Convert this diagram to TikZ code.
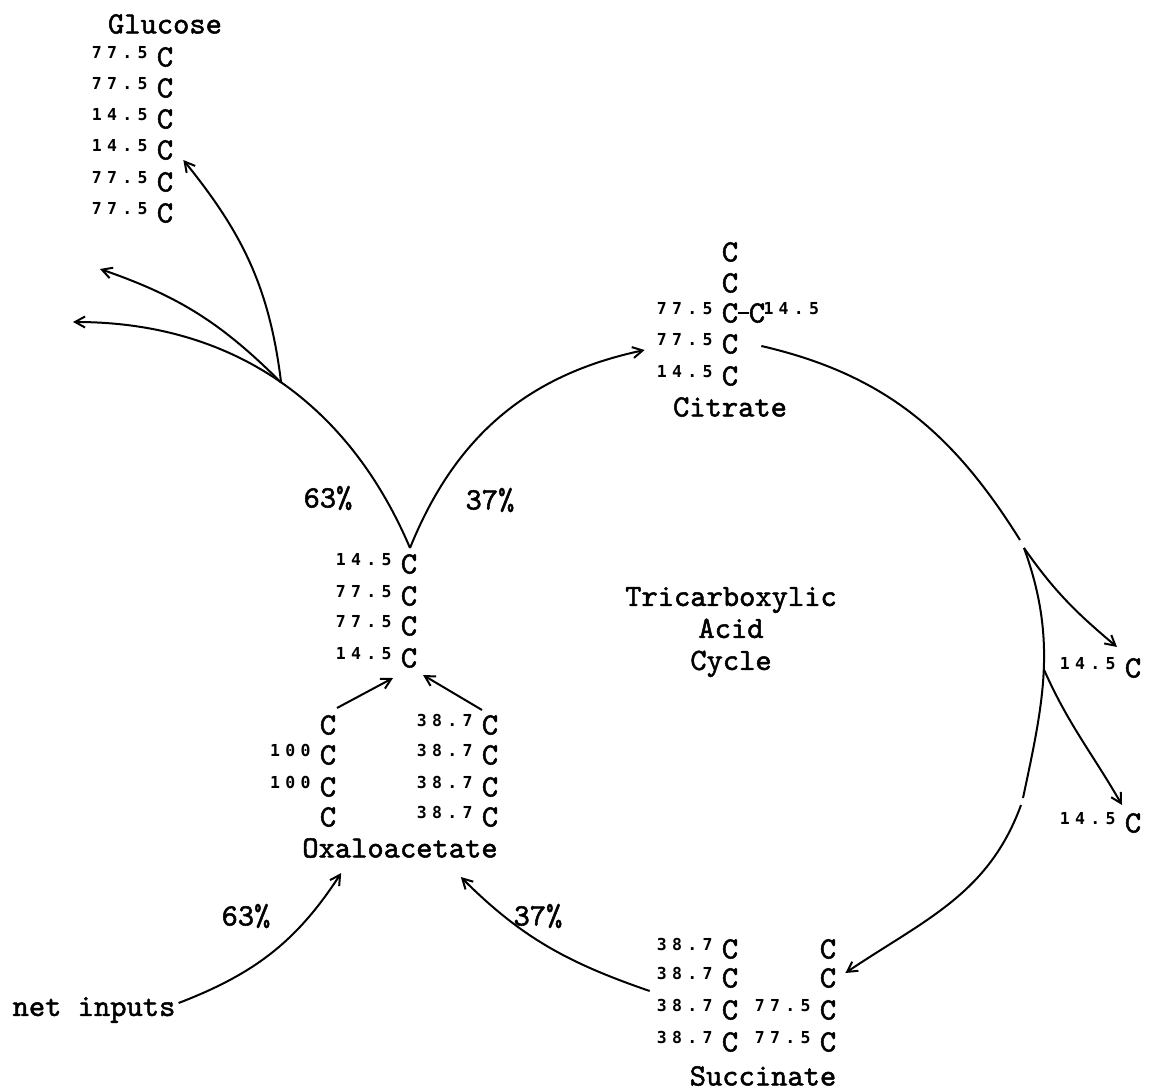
\documentclass[tikz,border=0pt]{standalone}
\usepackage{fontspec}
\setmonofont{lmmono10-regular.otf}[FakeBold=1.6]
\newfontfamily\isofont{DejaVu Sans Mono Bold}[LetterSpace=32]
\usetikzlibrary{arrows.meta}

% a carbon atom, optionally with its label-enrichment written in front of it
\newcommand\carbon[3]{\node[atom] (#1) at (#2,#3) {C};}
\newcommand\carbonL[4]{%
  \node[atom] (#1) at (#2,#3) {C};
  \node[iso] (#1l) at ([xshift=-9pt,yshift=1pt]#1.north west) {#4};}

\begin{document}
\begin{tikzpicture}[x=1pt,y=1pt,
  every node/.style={inner sep=0pt, font=\ttfamily\fontsize{31}{32}\selectfont},
  atom/.style={},
  iso/.style={anchor=north east, font=\isofont\fontsize{16.5}{17}\selectfont},
  plain/.style={line width=2pt},
  flow/.style={line width=2pt, -{Straight Barb[length=10pt,width=11pt,line width=2pt]}}]

\useasboundingbox (0,0) rectangle (1159,-1091);

% ---- glucose ----
\node (glc) at (165,-24) {Glucose};
\carbonL{g1}{165}{-57}{77.5}
\carbonL{g2}{165}{-88}{77.5}
\carbonL{g3}{165}{-119}{14.5}
\carbonL{g4}{165}{-150}{14.5}
\carbonL{g5}{165}{-182}{77.5}
\carbonL{g6}{165}{-213}{77.5}

% ---- citrate ----
\carbon{c1}{730}{-252}
\carbon{c2}{730}{-283}
\carbonL{c3}{730}{-313}{77.5}
\carbon{c3b}{757}{-313}
\node[iso, anchor=north west] (c3bl) at ([xshift=-2pt,yshift=1pt]c3b.north east) {14.5};
\draw[plain] (c3.east) -- (c3b.west);
\carbonL{c4}{730}{-344}{77.5}
\carbonL{c5}{730}{-376}{14.5}
\node (cit) at (730,-407) {Citrate};

% ---- oxaloacetate formed in the cycle ----
\carbonL{o1}{409}{-564}{14.5}
\carbonL{o2}{409}{-596}{77.5}
\carbonL{o3}{409}{-626}{77.5}
\carbonL{o4}{409}{-658}{14.5}

% ---- the two oxaloacetate sources ----
\carbon{l1}{328}{-725}
\carbonL{l2}{328}{-755}{100}
\carbonL{l3}{328}{-787}{100}
\carbon{l4}{328}{-817}
\carbonL{r1}{490}{-725}{38.7}
\carbonL{r2}{490}{-755}{38.7}
\carbonL{r3}{490}{-787}{38.7}
\carbonL{r4}{490}{-817}{38.7}
\node (oaa) at (400,-848) {Oxaloacetate};

% ---- succinate ----
\carbonL{s1}{730}{-949}{38.7}
\carbonL{s2}{730}{-978}{38.7}
\carbonL{s3}{730}{-1010}{38.7}
\carbonL{s4}{730}{-1042}{38.7}
\carbon{t1}{828}{-949}
\carbon{t2}{828}{-978}
\carbonL{t3}{828}{-1010}{77.5}
\carbonL{t4}{828}{-1042}{77.5}
\node (suc) at (763,-1076) {Succinate};

% ---- released CO2 carbons ----
\carbonL{p1}{1133}{-668}{14.5}
\carbonL{p2}{1133}{-823}{14.5}

% ---- labels ----
\node[align=center] (tca) at (731,-632) {Tricarboxylic\\Acid\\Cycle};
\node (pa) at (328,-498) {63\%};
\node (pb) at (490,-500) {37\%};
\node (pc) at (246,-916) {63\%};
\node (pd) at (538,-916) {37\%};
\node (net) at (94,-1010) {net inputs};

% ---- free ends of the outflow arrows ----
\coordinate (outA) at (100,-269);
\coordinate (outB) at (73,-322);
\coordinate (vtip) at ([shift={(1,6)}]o1.north);

% ---- 63% branch: gluconeogenesis and other outflows ----
\draw[flow] (vtip) to[out=113,in=0] coordinate[pos=0.49] (junc) (outB);
\draw[flow] (junc) to[out=97,in=-51] ([shift={(10,0)}]g4.south east);
\draw[flow] (junc) to[out=135,in=-19] (outA);

% ---- 37% branch into citrate ----
\draw[flow] (vtip) to[out=68,in=-168] ([shift={(-77,-6)}]c4.west);

% ---- around the cycle ----
\draw[plain] ([shift={(23,-2)}]c4.east) to[out=-13,in=122] (1020,-540);
\draw[plain] (1024,-548) to[out=-70,in=78] coordinate[pos=0.49] (dec2) (1023,-798);
\draw[flow] (1021,-805) to[out=-110,in=34] ([shift={(9,5)}]t2.east);
\draw[flow] (1024,-548) to[out=-55,in=140] ([shift={(-16,11)}]p1.north);
\draw[flow] (dec2) to[out=-66,in=120] ([shift={(-11,8)}]p2.north);

% ---- succinate back to oxaloacetate, and net inputs ----
\draw[flow] ([shift={(-72,-13)}]s2.west) to[out=161,in=-45] ([shift={(-37,-19)}]oaa.south east);
\draw[flow] ([shift={(3,7)}]net.east) to[out=21,in=-123] ([shift={(39,-15)}]oaa.south west);

% ---- both sources into the cycle's oxaloacetate ----
\draw[flow] ([shift={(9,7)}]l1.north) -- ([shift={(-16,-10)}]o4.south);
\draw[flow] ([shift={(-8,5)}]r1.north) -- ([shift={(14,-7)}]o4.south);

\end{tikzpicture}
\end{document}
